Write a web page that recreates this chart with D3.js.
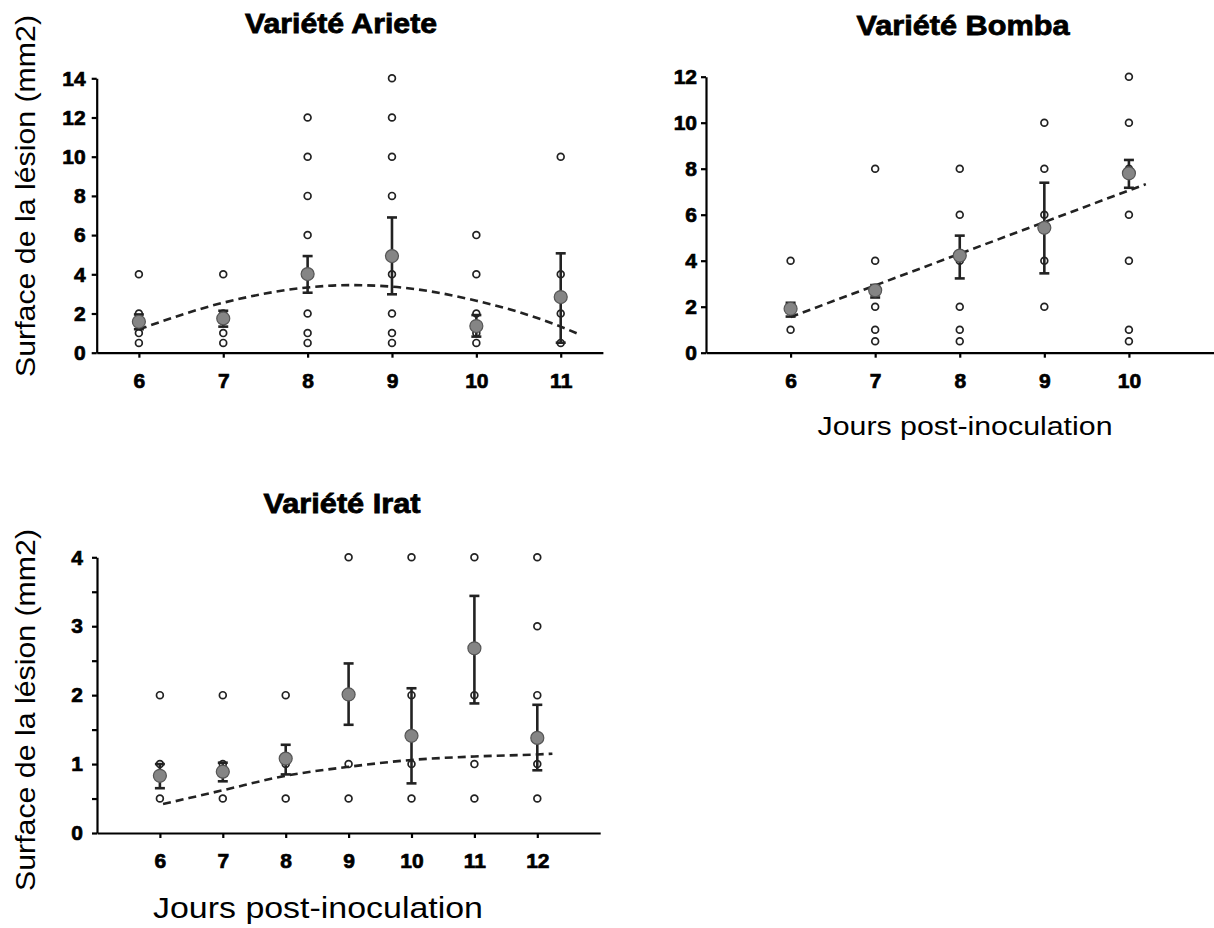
<!DOCTYPE html>
<html><head><meta charset="utf-8">
<script src="https://cdn.jsdelivr.net/npm/d3@7"></script>
<style>
html,body{margin:0;padding:0;background:#fff;}
svg{display:block;font-family:"Liberation Sans",Arial,sans-serif;}
</style></head>
<body>
<svg id="chart" width="1214" height="928"></svg>
<script>
// ---- Data ----
const arieteDays = [6, 7, 8, 9, 10, 11];
const arietePoints = [[0.5,1,2,4],[0.5,1,2,4],[0.5,1,2,6,8,10,12],[0.5,1,2,4,8,10,12,14],[0.5,1,2,4,6],[0.5,2,4,10]];
const arieteMean = [1.58, 1.75, 4.01, 4.93, 1.36, 2.84];
const arieteLow  = [1.20, 1.33, 3.06, 2.98, 0.82, 0.51];
const arieteHigh = [1.95, 2.14, 4.93, 6.90, 1.92, 5.07];
const arieteFitX = [6, 7, 8, 8.5, 9, 10, 11, 11.21];
const arieteFitY = [1.19, 2.55, 3.33, 3.45, 3.37, 2.65, 1.33, 0.95];
const arieteXTicks = [6, 7, 8, 9, 10, 11];
const arieteYTicks = [0, 2, 4, 6, 8, 10, 12, 14];

const bombaDays = [6, 7, 8, 9, 10];
const bombaPoints = [[1,2,4],[0.5,1,2,4,8],[0.5,1,2,4,6,8],[2,4,6,8,10],[0.5,1,4,6,8,10,12]];
const bombaMean = [1.91, 2.71, 4.22, 5.43, 7.80];
const bombaLow  = [1.57, 2.40, 3.23, 3.45, 7.17];
const bombaHigh = [2.17, 2.94, 5.09, 7.39, 8.38];
const bombaFitX = [6, 10.2];
const bombaFitY = [1.55, 7.33];
const bombaXTicks = [6, 7, 8, 9, 10];
const bombaYTicks = [0, 2, 4, 6, 8, 10, 12];

const iratDays = [6, 7, 8, 9, 10, 11, 12];
const iratPoints = [[0.5,1,2],[0.5,1,2],[0.5,1,2],[0.5,1,4],[0.5,1,2,4],[0.5,1,2,4],[0.5,1,2,3,4]];
const iratMean = [0.83, 0.89, 1.08, 2.01, 1.41, 2.68, 1.38];
const iratLow  = [0.65, 0.75, 0.85, 1.57, 0.72, 1.88, 0.91];
const iratHigh = [1.00, 1.02, 1.28, 2.46, 2.10, 3.44, 1.86];
const iratFitX = [6.05, 7, 8, 9, 10, 11, 12, 12.24];
const iratFitY = [0.42, 0.62, 0.83, 0.96, 1.06, 1.11, 1.14, 1.15];
const iratXTicks = [6, 7, 8, 9, 10, 11, 12];
const iratYTicks = [0, 0.5, 1, 1.5, 2, 2.5, 3, 3.5, 4];
const iratYLabels = [0, 1, 2, 3, 4];

const titles = ["Variété Ariete", "Variété Bomba", "Variété Irat"];
const yTitle = "Surface de la lésion (mm2)";
const xTitle = "Jours post-inoculation";

// ---- Drawing ----
const svg = d3.select("#chart");
const FONT = '"Liberation Sans", Arial, sans-serif';

function panel(cfg) {
  const x = d3.scaleLinear().domain(cfg.xDomain).range(cfg.xRange);
  const y = d3.scaleLinear().domain(cfg.yDomain).range(cfg.yRange);
  const g = svg.append("g");

  // axes
  const xa = g.append("g").attr("transform", `translate(0,${cfg.yRange[0]})`)
    .call(d3.axisBottom(x).tickValues(cfg.xTicks).tickSize(5).tickSizeOuter(0).tickPadding(15).tickFormat(d3.format("d")));
  const ya = g.append("g").attr("transform", `translate(${cfg.xRange[0]},0)`)
    .call(d3.axisLeft(y).tickValues(cfg.yTicks).tickSize(5).tickSizeOuter(0).tickPadding(cfg.yPad)
      .tickFormat(d => (cfg.yLabels ? (cfg.yLabels.includes(d) ? d3.format("d")(d) : "") : d3.format("d")(d))));
  [xa, ya].forEach(a => {
    a.select(".domain").attr("stroke", "#000").attr("stroke-width", 2.2);
    a.selectAll(".tick line").attr("stroke", "#000").attr("stroke-width", 2.2);
    a.selectAll(".tick text").attr("fill", "#000").attr("stroke", "#000").attr("stroke-width", 0.7)
      .style("font-family", FONT).style("font-size", "21px").style("font-weight", "bold");
  });

  // raw points
  cfg.days.forEach((d, i) => {
    g.selectAll(null).data(cfg.points[i]).enter().append("circle")
      .attr("cx", x(d)).attr("cy", v => y(v)).attr("r", 3.4)
      .attr("fill", "#fff").attr("stroke", "#222").attr("stroke-width", 1.7);
  });

  // fit line
  const fit = cfg.fitX.map((v, i) => [v, cfg.fitY[i]]);
  g.append("path").datum(fit)
    .attr("d", d3.line().x(p => x(p[0])).y(p => y(p[1])).curve(d3.curveMonotoneX))
    .attr("fill", "none").attr("stroke", "#222").attr("stroke-width", 2.6)
    .attr("stroke-dasharray", "8,5");

  // error bars
  const eb = g.selectAll(null).data(cfg.days.map((d, i) => ({d, lo: cfg.low[i], hi: cfg.high[i]}))).enter().append("g");
  eb.append("line").attr("x1", e => x(e.d)).attr("x2", e => x(e.d))
    .attr("y1", e => y(e.lo)).attr("y2", e => y(e.hi)).attr("stroke", "#222").attr("stroke-width", 2.6);
  ["lo", "hi"].forEach(k => {
    eb.append("line").attr("x1", e => x(e.d) - 5).attr("x2", e => x(e.d) + 5)
      .attr("y1", e => y(e[k])).attr("y2", e => y(e[k])).attr("stroke", "#222").attr("stroke-width", 2.6);
  });

  // means
  g.selectAll(null).data(cfg.days.map((d, i) => [d, cfg.mean[i]])).enter().append("circle")
    .attr("cx", p => x(p[0])).attr("cy", p => y(p[1])).attr("r", 6.5)
    .attr("fill", "#858585").attr("stroke", "#555").attr("stroke-width", 1.2);

  // title
  g.append("text").attr("x", cfg.title[1]).attr("y", cfg.title[2]).attr("text-anchor", "middle")
    .attr("textLength", cfg.title[3]).attr("lengthAdjust", "spacingAndGlyphs")
    .attr("stroke", "#000").attr("stroke-width", 0.8)
    .style("font-family", FONT).style("font-size", "28px").style("font-weight", "bold").text(cfg.title[0]);

  if (cfg.yTitle) {
    g.append("text").attr("transform", `translate(${cfg.yTitle[0]},${cfg.yTitle[1]}) rotate(-90)`)
      .attr("text-anchor", "middle").attr("textLength", cfg.yTitle[2]).attr("lengthAdjust", "spacingAndGlyphs")
      .style("font-family", FONT).style("font-size", "27px").text(yTitle);
  }
  if (cfg.xTitle) {
    g.append("text").attr("x", cfg.xTitle[0]).attr("y", cfg.xTitle[1]).attr("text-anchor", "middle")
      .attr("textLength", cfg.xTitle[2]).attr("lengthAdjust", "spacingAndGlyphs")
      .style("font-family", FONT).style("font-size", cfg.xTitle[3] + "px").text(xTitle);
  }
}

panel({
  xDomain: [5.5, 11.5], xRange: [96.7, 602.9], yDomain: [0, 14], yRange: [352.7, 78.3],
  xTicks: arieteXTicks, yTicks: arieteYTicks, yPad: 6,
  days: arieteDays, points: arietePoints, mean: arieteMean, low: arieteLow, high: arieteHigh,
  fitX: arieteFitX, fitY: arieteFitY,
  title: [titles[0], 341, 33, 192], yTitle: [35, 196, 362]
});
panel({
  xDomain: [5, 11], xRange: [706, 1213.5], yDomain: [0, 12], yRange: [352.7, 76.7],
  xTicks: bombaXTicks, yTicks: bombaYTicks, yPad: 4,
  days: bombaDays, points: bombaPoints, mean: bombaMean, low: bombaLow, high: bombaHigh,
  fitX: bombaFitX, fitY: bombaFitY,
  title: [titles[1], 963, 35, 213], xTitle: [965, 435, 295, 26]
});
panel({
  xDomain: [5, 13], xRange: [97, 600.2], yDomain: [0, 4], yRange: [833, 557.3],
  xTicks: iratXTicks, yTicks: iratYTicks, yLabels: iratYLabels, yPad: 9,
  days: iratDays, points: iratPoints, mean: iratMean, low: iratLow, high: iratHigh,
  fitX: iratFitX, fitY: iratFitY,
  title: [titles[2], 342, 513, 157], yTitle: [35, 710, 362], xTitle: [318, 918, 330, 29]
});
</script>
</body></html>
